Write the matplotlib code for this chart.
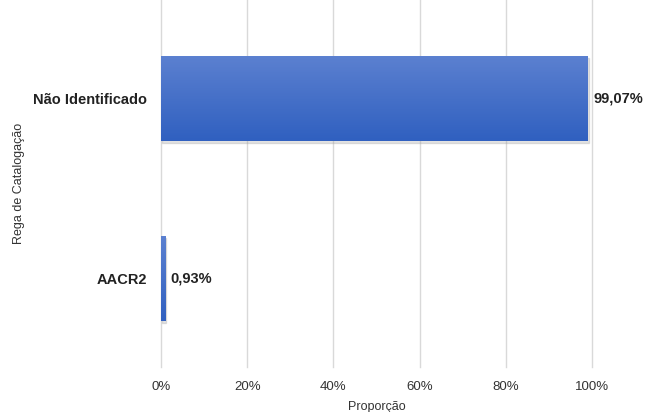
import matplotlib.pyplot as plt
import numpy as np
from matplotlib.colors import LinearSegmentedColormap

plt.rcParams['font.family'] = ['Liberation Sans', 'DejaVu Sans']

# data
categories = ['AACR2', 'Não Identificado']
values = [0.93, 99.07]
value_labels = ['0,93%', '99,07%']
x_ticks = [0, 20, 40, 60, 80, 100]

fig = plt.figure(figsize=(6.49, 4.12), dpi=100)
ax = fig.add_axes([0.248, 0.109, 0.664, 0.891])

ypos = np.arange(len(categories))
bars = ax.barh(ypos, values, height=0.47, color='#3d6bc7', zorder=3)

# gradient fill on bars + soft shadow
cmap = LinearSegmentedColormap.from_list('g', ['#3060c0', '#5b80d0'])
grad = np.linspace(0, 1, 64).reshape(-1, 1)
for b in bars:
    x0, y0 = b.get_x(), b.get_y()
    w, h = b.get_width(), b.get_height()
    shadow = plt.Rectangle((x0 + 0.25, y0 - 0.012), w, h, color='#a0a0a0', alpha=0.3, zorder=2)
    ax.add_patch(shadow)
    im = ax.imshow(grad, extent=[x0, x0 + w, y0, y0 + h], origin='lower', cmap=cmap,
                   aspect='auto', zorder=4)
    im.set_clip_path(b)

for y, v, lab in zip(ypos, values, value_labels):
    ax.text(v + 1.3, y, lab, va='center', ha='left', fontsize=10.5, fontweight='bold', color='#222222')

ax.set_xlim(0, 100)
ax.set_ylim(-0.49, 1.545)
ax.set_xticks(x_ticks)
ax.set_xticklabels([f'{t}%' for t in x_ticks], fontsize=9.5, color='#333333')
ax.set_yticks(ypos)
ax.set_yticklabels(categories, fontsize=10.5, fontweight='bold', color='#222222')
ax.tick_params(length=0, pad=10)
ax.tick_params(axis='y', pad=10)
ax.grid(axis='x', color='#d9d9d9', linewidth=1, zorder=0)
for gl in ax.get_xgridlines():
    gl.set_clip_on(False)
ax.set_axisbelow(True)
for s in ax.spines.values():
    s.set_visible(False)

ax.set_xlabel('Proporção', fontsize=9, color='#333333', labelpad=6)
fig.text(0.03, 0.555, 'Rega de Catalogação', rotation=90, va='center', ha='center',
         fontsize=9, color='#333333')

fig.savefig('out.png', dpi=100)
